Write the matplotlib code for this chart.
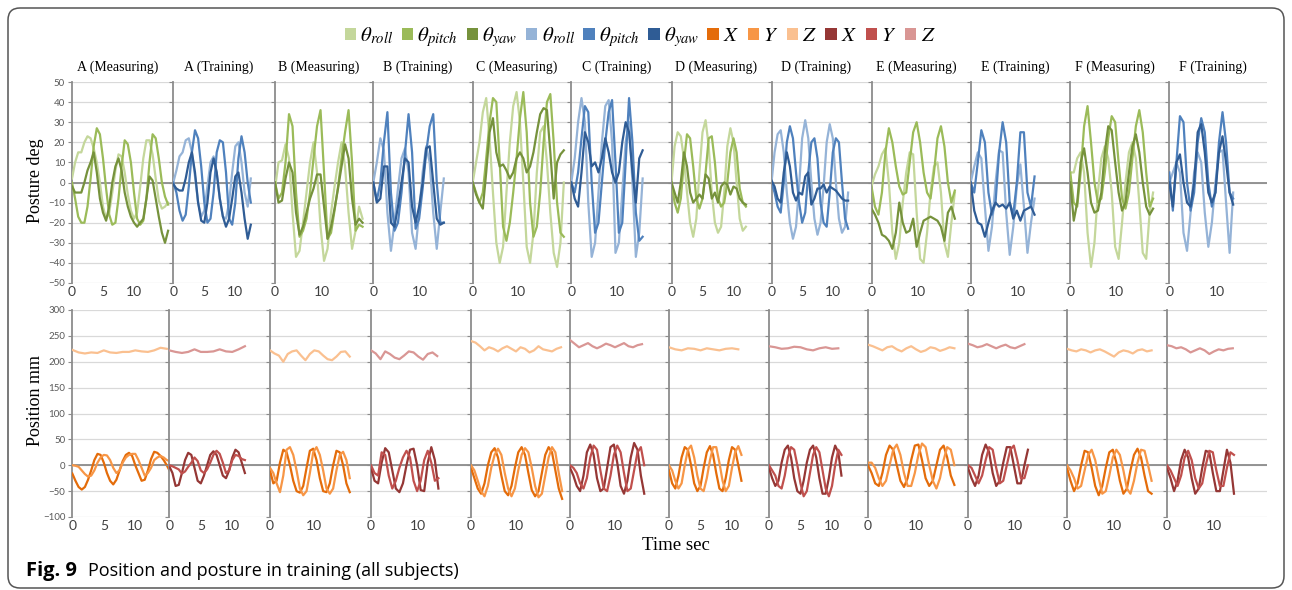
"""
Fig. 9 - position and posture in training (all subjects A-F)
Twelve measuring / training segments side by side, posture on top, position below
"""

import numpy as np
import matplotlib
matplotlib.use('Agg')
import matplotlib.pyplot as plt
from matplotlib.patches import FancyBboxPatch, Patch

# ─── PANELS ──────────────────────────────────────────────────────────────────
panel_titles = ['A (Measuring)', 'A (Training)', 'B (Measuring)', 'B (Training)',
                'C (Measuring)', 'C (Training)', 'D (Measuring)', 'D (Training)',
                'E (Measuring)', 'E (Training)', 'F (Measuring)', 'F (Training)']
sample_dt = [0.5, 0.5, 0.75, 0.75, 0.75, 0.75, 0.5, 0.5, 0.75, 0.75, 0.75, 0.75]
z_dt = 1.0
posture_ticks = [-50, -40, -30, -20, -10, 0, 10, 20, 30, 40, 50]
position_ticks = [-100, -50, 0, 50, 100, 150, 200, 250, 300]
time_ticks = [[0, 5, 10], [0, 5, 10], [0, 10], [0, 10], [0, 10], [0, 10],
              [0, 5, 10], [0, 5, 10], [0, 10], [0, 10], [0, 10], [0, 10]]

# ─── POSTURE (deg) ───────────────────────────────────────────────────────────
a_meas_roll = [2, 10, 15, 15, 20, 23, 22, 17, 10, 0, -12, -18, -15, -5, 6, 14, 13, 5, -6, -14,
               -18, -15, -2, 12, 21, 21, 14, 2, -9, -13, -12, -10]
a_meas_pitch = [0, -8, -17, -20, -20, -12, 2, 18, 27, 24, 12, -3, -16, -21, -20, -8, 8, 21, 19, 10,
                -5, -18, -21, -19, -8, 10, 24, 22, 12, 0, -7, -11]
a_meas_yaw = [-2, -5, -5, -5, 0, 6, 10, 15, 5, -8, -15, -19, -12, 0, 8, 12, 6, -5, -12, -17,
              -20, -22, -20, -18, -8, 3, 1, -8, -17, -25, -30, -24]
a_train_roll = [0, 6, 13, 15, 21, 22, 15, 3, -10, -17, -14, -2, 10, 13, 5, -8, -17, -18, -10, 5,
                18, 20, 10, -5, -12, 2]
a_train_pitch = [0, -5, -14, -19, -16, -2, 15, 26, 22, 8, -10, -20, -18, -5, 15, 21, 20, 5, -18, -21,
                 -10, 12, 23, 15, 0, -10]
a_train_yaw = [-1, -3, -4, -4, 2, 10, 15, 5, -10, -19, -20, -10, 5, 12, 5, -8, -17, -22, -18, -8,
               3, 5, -5, -18, -28, -21]
b_meas_roll = [-3, 10, 11, 19, 12, -15, -37, -34, -20, -5, 10, 20, 5, -22, -39, -33, -15, -2, 10, 20,
               8, -15, -33, -24, -12, -18]
b_meas_pitch = [0, -8, -5, 10, 34, 28, -5, -27, -24, -18, -5, 12, 28, 36, 5, -28, -25, -14, -2, 12,
                25, 36, 10, -24, -21, -22]
b_meas_yaw = [0, -10, -9, 2, 10, 5, -15, -26, -22, -15, -8, -3, 4, 4, -12, -28, -22, -13, -3, 8,
              19, 12, -8, -21, -18, -20]
b_train_roll = [0, 10, 22, 16, -15, -34, -20, -3, 12, 17, 5, -25, -33, -15, 5, 18, 10, -15, -33, -15, 2]
b_train_pitch = [0, -9, 0, 20, 35, -5, -24, -20, -5, 15, 34, 15, -23, -18, -3, 15, 28, 34, 0, -20, -20]
b_train_yaw = [0, -10, -8, 8, 8, -20, -22, -12, 0, 12, 10, -12, -20, -12, 0, 17, 18, 0, -18, -21, -20]
c_meas_roll = [0, 10, 20, 35, 42, 22, -5, -30, -40, -32, -5, 20, 38, 45, 30, 0, -32, -40, -25, 5,
               25, 28, 10, -15, -35, -42, -30, 0]
c_meas_pitch = [0, -5, -10, -5, 12, 30, 42, 40, 10, -22, -29, -20, -5, 12, 32, 45, 25, -10, -27, -22,
                -5, 20, 40, 44, 20, -10, -25, -27]
c_meas_yaw = [0, -6, -10, -13, 5, 25, 32, 15, 8, 9, 6, 2, 5, 12, 15, 12, 5, 8, 15, 25,
              34, 37, 36, 15, -8, 10, 14, 16]
c_train_roll = [0, 12, 30, 42, 30, -10, -37, -30, -5, 20, 38, 41, 20, -35, -30, -5, 20, 30, 0, -37, -25, 2]
c_train_pitch = [0, -5, 5, 22, 38, 35, 0, -25, -20, 0, 20, 35, 41, 10, -25, -20, 10, 42, 20, -15, -29, -27]
c_train_yaw = [0, -8, -12, 5, 25, 20, 8, 10, 5, 12, 22, 15, 5, 0, 5, 20, 30, 25, 5, -10, 12, 16]
d_meas_roll = [0, 18, 25, 23, 12, -5, -20, -27, -18, 5, 25, 31, 18, -5, -20, -25, -22, -5, 18, 27,
               20, 0, -18, -24, -22]
d_meas_pitch = [0, -10, -15, -8, 10, 24, 22, 8, -8, -13, -8, 5, 22, 23, 10, -8, -12, -10, 0, 15,
                22, 15, -3, -10, -12]
d_meas_yaw = [0, -5, -10, 0, 15, 8, -5, -10, -8, -6, -8, 4, 2, -8, -5, -10, -2, 0, -1, -6,
              -2, -3, -8, -10, -11]
d_train_roll = [0, 15, 24, 26, 15, -5, -20, -28, -22, -2, 22, 31, 22, 0, -18, -26, -20, -2, 20, 29,
                22, 0, -18, -25, -22, -5]
d_train_pitch = [0, -5, -12, -15, 0, 20, 28, 22, 5, -10, -20, -15, 5, 20, 22, 12, -10, -20, -22, -5,
                 15, 22, 20, 0, -18, -23]
d_train_yaw = [1, -2, -8, -10, 5, 15, 8, -5, -9, -5, -6, 3, 5, -11, -8, -3, -3, -1, -5, -2,
               -3, -4, -6, -8, -9, -9]
e_meas_roll = [-2, 4, 8, 14, 17, 0, -25, -38, -30, -10, 5, 15, 14, -15, -38, -40, -25, -5, 8, 10,
               -5, -30, -37, -20, -5]
e_meas_pitch = [-2, -12, -16, -5, 15, 27, 20, 8, -2, -6, -5, 10, 25, 30, 20, 5, -5, -8, 5, 22,
                28, 18, 0, -10, -4]
e_meas_yaw = [-13, -16, -20, -26, -27, -29, -33, -25, -10, -20, -25, -24, -18, -32, -25, -19, -18, -17,
              -18, -19, -22, -29, -15, -12, -18]
e_train_roll = [0, 8, 15, 12, -12, -34, -22, 0, 16, 15, -15, -36, -22, -2, 9, -12, -35, -20, -8]
e_train_pitch = [0, -5, 10, 26, 20, -5, -16, -10, 15, 30, 20, -10, -16, 0, 25, 25, -5, -12, 3]
e_train_yaw = [0, -14, -20, -21, -27, -20, -14, -10, -12, -11, -13, -10, -18, -14, -19, -14, -13, -12, -16]
f_meas_roll = [5, 5, 12, 15, 5, -25, -42, -30, -5, 12, 18, 12, -5, -32, -38, -20, 0, 15, 20, 12,
               -10, -35, -38, -15, -5]
f_meas_pitch = [5, -10, -12, 5, 28, 38, 20, 0, -10, -8, 5, 22, 33, 30, 10, -8, -13, -5, 12, 28,
                36, 25, 5, -12, -8]
f_meas_yaw = [0, -19, -10, 10, 17, 5, -10, -15, -14, -5, 15, 28, 26, 10, -5, -14, -10, 5, 18, 24,
              15, 0, -12, -16, -13]
f_train_roll = [0, 5, 10, 5, -25, -34, -15, 5, 15, 10, -15, -32, -20, 0, 15, 16, -10, -35, -5]
f_train_pitch = [5, -14, 10, 33, 30, 0, -14, -5, 20, 32, 25, 0, -12, -5, 20, 35, 20, -5, -8]
f_train_yaw = [0, -12, 10, 14, 0, -10, -12, 0, 25, 29, 15, -5, -10, -5, 15, 23, 10, -5, -11]

# ─── POSITION (mm) ───────────────────────────────────────────────────────────
a_meas_x = [-16, -30, -42, -47, -42, -28, -10, 10, 22, 20, 5, -15, -30, -37, -28, -10, 8, 20, 24, 18,
            0, -15, -30, -28, -10, 12, 26, 24, 18, 10, 0, -12]
a_meas_y = [0, -1, -3, -10, -17, -22, -20, -10, 5, 15, 20, 19, 10, -5, -15, -10, 5, 15, 20, 22,
            22, 10, -5, -20, -15, -5, 10, 15, 18, 15, 10, 8]
a_meas_z = [223, 218, 216, 218, 217, 222, 218, 217, 219, 219, 222, 220, 219, 222, 227, 225]
a_train_x = [-2, -15, -40, -38, -15, 10, 24, 20, -5, -30, -35, -20, 0, 20, 27, 20, 0, -20, -25, -10,
             15, 30, 25, 5, -15]
a_train_y = [0, -2, -5, -8, -16, -12, -3, 5, 15, 8, -10, -15, -8, 5, 20, 28, 22, 5, -15, -10,
             10, 20, 18, 12, 10]
a_train_z = [222, 219, 217, 219, 224, 219, 219, 220, 224, 220, 219, 224, 230]
b_meas_x = [-10, -35, -30, 5, 30, 25, 0, -30, -50, -53, -40, -5, 28, 32, 10, -25, -50, -52, -35, 0,
            28, 25, 0, -35, -52]
b_meas_y = [-5, -15, -35, -52, -20, 30, 35, 20, -10, -45, -58, -50, -15, 25, 35, 20, -10, -45, -55, -45,
            -10, 20, 26, 10, -25]
b_meas_z = [222, 216, 212, 200, 215, 220, 222, 212, 203, 215, 222, 220, 212, 205, 203, 210, 219, 220, 210]
b_train_x = [-5, -30, -35, 5, 33, 25, -10, -45, -52, -35, 0, 30, 32, 0, -48, -50, 5, 35, 10, -45]
b_train_y = [0, -15, -20, 25, 20, -20, -45, -30, -5, 15, 28, 15, -30, -50, -30, 10, 28, 5, -30, -25]
b_train_z = [222, 216, 205, 220, 215, 208, 205, 212, 220, 218, 210, 204, 215, 218, 211]
c_meas_x = [-5, -25, -45, -55, -35, 0, 25, 33, 15, -20, -50, -58, -40, -5, 25, 35, 20, -15, -48, -60,
            -50, -15, 20, 35, 25, -10, -45, -65]
c_meas_y = [0, -10, -30, -50, -60, -40, -5, 20, 32, 20, -15, -45, -60, -45, -10, 20, 33, 25, -5, -40,
            -62, -55, -20, 15, 35, 25, -15, -50]
c_meas_z = [240, 237, 230, 222, 228, 225, 220, 226, 230, 225, 220, 228, 225, 218, 222, 230, 224, 222,
            220, 225, 228]
c_train_x = [-5, -20, -40, -50, -20, 25, 40, 20, -25, -50, -45, -5, 35, 40, 5, -40, -55, -30, 15, 43,
             30, -20, -55]
c_train_y = [0, -5, -15, -35, -45, -25, 15, 38, 30, -10, -45, -50, -20, 20, 38, 25, -15, -50, -45, -10,
             25, 35, 0]
c_train_z = [242, 235, 228, 232, 236, 230, 226, 230, 235, 232, 228, 232, 236, 230, 228, 232, 234]
d_meas_x = [-10, -35, -45, -20, 15, 35, 30, 0, -35, -50, -40, -5, 25, 37, 20, -15, -45, -50, -25, 10,
            35, 30, 0, -30]
d_meas_y = [0, -10, -30, -45, -35, 0, 30, 38, 15, -20, -45, -50, -25, 10, 35, 35, 5, -30, -50, -40,
            -5, 25, 37, 20]
d_meas_z = [228, 224, 222, 226, 225, 222, 226, 224, 222, 225, 226, 224]
d_train_x = [-5, -25, -40, -30, 5, 30, 38, 15, -25, -50, -55, -30, 5, 30, 38, 15, -25, -55, -55, -25,
             15, 38, 25, -20]
d_train_y = [0, -10, -20, -40, -45, -20, 15, 35, 30, 0, -35, -60, -50, -15, 20, 35, 25, -10, -45, -60,
             -40, 0, 30, 20]
d_train_z = [230, 228, 225, 226, 229, 228, 224, 222, 226, 228, 225, 226]
e_meas_x = [0, -15, -35, -40, -15, 20, 38, 30, 0, -30, -42, -25, 10, 38, 40, 10, -25, -40, -30, 0,
            30, 38, 15, -20, -38]
e_meas_y = [5, 5, -5, -25, -40, -30, 0, 30, 40, 20, -15, -40, -40, -15, 20, 42, 35, 0, -30, -45,
            -25, 10, 35, 30, 0]
e_meas_z = [233, 230, 226, 222, 228, 230, 224, 220, 226, 230, 224, 219, 222, 228, 226, 221, 224, 228, 226]
e_train_x = [-5, -25, -40, -20, 20, 40, 25, -15, -40, -30, 5, 35, 35, 0, -35, -35, 0, 30]
e_train_y = [0, -5, -20, -35, -20, 10, 35, 30, -5, -35, -30, 0, 30, 38, 10, -25, -25, 0]
e_train_z = [235, 232, 228, 230, 234, 230, 226, 230, 233, 228, 226, 230, 234]
f_meas_x = [-5, -30, -50, -35, 0, 28, 25, -5, -40, -58, -40, -5, 25, 30, 5, -30, -55, -45, -10, 20,
            32, 15, -20, -50, -55]
f_meas_y = [0, -10, -25, -45, -40, -10, 20, 30, 10, -25, -55, -50, -20, 15, 30, 20, -10, -45, -55, -30,
            5, 30, 28, 0, -30]
f_meas_z = [225, 222, 220, 224, 222, 218, 222, 224, 220, 215, 210, 218, 222, 220, 216, 222, 224, 220, 222]
f_train_x = [-5, -25, -50, -30, 10, 30, 15, -25, -55, -45, -5, 28, 25, -15, -50, -50, -10, 30, 5, -55]
f_train_y = [0, -10, -25, -40, -20, 15, 28, 10, -25, -45, -35, 0, 28, 25, -10, -40, -40, -5, 25, 20]
f_train_z = [232, 230, 226, 228, 224, 218, 222, 226, 222, 215, 220, 224, 222, 225, 226]

posture_sets = [
    (a_meas_roll, a_meas_pitch, a_meas_yaw), (a_train_roll, a_train_pitch, a_train_yaw),
    (b_meas_roll, b_meas_pitch, b_meas_yaw), (b_train_roll, b_train_pitch, b_train_yaw),
    (c_meas_roll, c_meas_pitch, c_meas_yaw), (c_train_roll, c_train_pitch, c_train_yaw),
    (d_meas_roll, d_meas_pitch, d_meas_yaw), (d_train_roll, d_train_pitch, d_train_yaw),
    (e_meas_roll, e_meas_pitch, e_meas_yaw), (e_train_roll, e_train_pitch, e_train_yaw),
    (f_meas_roll, f_meas_pitch, f_meas_yaw), (f_train_roll, f_train_pitch, f_train_yaw)]
position_sets = [
    (a_meas_x, a_meas_y, a_meas_z), (a_train_x, a_train_y, a_train_z),
    (b_meas_x, b_meas_y, b_meas_z), (b_train_x, b_train_y, b_train_z),
    (c_meas_x, c_meas_y, c_meas_z), (c_train_x, c_train_y, c_train_z),
    (d_meas_x, d_meas_y, d_meas_z), (d_train_x, d_train_y, d_train_z),
    (e_meas_x, e_meas_y, e_meas_z), (e_train_x, e_train_y, e_train_z),
    (f_meas_x, f_meas_y, f_meas_z), (f_train_x, f_train_y, f_train_z)]

# ─── STYLE / LAYOUT (pixels) ─────────────────────────────────────────────────
green = ['#c4d79b', '#9bbb59', '#76923c']
blue = ['#95b3d7', '#4f81bd', '#2f5c95']
orange = ['#e46c0a', '#f79646', '#fac090']
red = ['#953735', '#c0504d', '#d99694']

W, H = 1292, 590
top_edges = [72, 173.3, 275, 373.3, 472.7, 571.3, 671.5, 771.5, 871.5, 970.7, 1070.3, 1169.3, 1267]
bot_edges = [72.3, 169.3, 270, 371, 471, 570, 669, 769, 868, 968, 1067, 1167, 1267]
top_pxps = [6.2, 6.2, 4.67, 4.7, 4.5, 4.53, 6.2, 6.13, 4.63, 4.73, 4.6, 4.73]
bot_pxps = [6.3, 6.3, 4.43, 4.73, 4.5, 4.5, 6.3, 6.3, 4.8, 4.7, 4.7, 4.7]
axis_gray = '#8c8c8c'

plt.rcParams['mathtext.fontset'] = 'stix'
serif = 'Liberation Serif'
sans = 'Lato'

fig = plt.figure(figsize=(W / 100, H / 100), dpi=100)

# rounded caption frame
bg = fig.add_axes([0, 0, 1, 1], zorder=-5)
bg.set_xlim(0, W)
bg.set_ylim(H, 0)
bg.axis('off')
bg.add_patch(FancyBboxPatch((8, 8), W - 16, H - 10, boxstyle='round,pad=0,rounding_size=12',
                            fc='white', ec='#555555', lw=1.1))


def draw_row(edges, pxps, ytop, ybot, ylim, yticks, sets, posture):
    for i in range(12):
        x0, x1 = edges[i], edges[i + 1]
        ax = fig.add_axes([x0 / W, 1 - ybot / H, (x1 - x0) / W, (ybot - ytop) / H])
        ax.set_xlim(0, (x1 - x0) / pxps[i])
        ax.set_ylim(*ylim)
        ax.set_yticks(yticks)
        ax.set_xticks(time_ticks[i])
        ax.grid(axis='y', color='#d9d9d9', lw=0.9)
        ax.set_axisbelow(True)
        ax.axhline(0, color=axis_gray, lw=1.3, zorder=1.5)
        for s in ['top', 'right', 'bottom']:
            ax.spines[s].set_visible(False)
        ax.spines['left'].set_color(axis_gray)
        ax.spines['left'].set_linewidth(1.3)
        ax.tick_params(axis='x', length=0, pad=2, labelsize=10, labelcolor='#404040')
        ax.tick_params(axis='y', length=3, color=axis_gray, pad=2, labelsize=7,
                       labelcolor='#595959', labelleft=(i == 0))
        for lab in ax.get_xticklabels() + ax.get_yticklabels():
            lab.set_family(sans)
        if posture:
            cols = green if i % 2 == 0 else blue
        else:
            cols = orange if i % 2 == 0 else red
        for k, vals in enumerate(sets[i]):
            dt = sample_dt[i] if (posture or k < 2) else z_dt
            t = np.arange(len(vals)) * dt
            ax.plot(t, vals, color=cols[k], lw=1.6, solid_joinstyle='round', zorder=3)


draw_row(top_edges, top_pxps, 82, 283, (-50, 50), posture_ticks, posture_sets, True)
draw_row(bot_edges, bot_pxps, 310, 517, (-100, 300), position_ticks, position_sets, False)

# ─── TEXT ────────────────────────────────────────────────────────────────────
for i, title in enumerate(panel_titles):
    cx = (top_edges[i] + top_edges[i + 1]) / 2 - 5
    fig.text(cx / W, 1 - 67 / H, title, ha='center', va='center', family=serif, fontsize=10)

fig.text(35 / W, 1 - 181 / H, 'Posture deg', rotation=90, ha='center', va='center',
         family=serif, fontsize=13)
fig.text(35 / W, 1 - 400 / H, 'Position mm', rotation=90, ha='center', va='center',
         family=serif, fontsize=13)
fig.text(676 / W, 1 - 545 / H, 'Time sec', ha='center', va='center', family=serif, fontsize=13.5)

fig.text(26 / W, 1 - 571 / H, 'Fig. 9', ha='left', va='center', family='Open Sans',
         fontweight='bold', fontsize=14.5)
fig.text(88 / W, 1 - 571 / H, 'Position and posture in training (all subjects)', ha='left',
         va='center', family='Open Sans', fontsize=13)

# ─── LEGEND ──────────────────────────────────────────────────────────────────
leg_colors = green + blue + orange + red
leg_labels = [r'$\theta_{roll}$', r'$\theta_{pitch}$', r'$\theta_{yaw}$'] * 2 + [r'$X$', r'$Y$', r'$Z$'] * 2
handles = [Patch(facecolor=c, edgecolor='none') for c in leg_colors]
fig.legend(handles, leg_labels, ncol=12, loc='center', bbox_to_anchor=(640 / W, 1 - 37 / H),
           frameon=False, fontsize=15, handlelength=0.55, handleheight=0.55,
           handletextpad=0.2, columnspacing=0.4, borderaxespad=0)

fig.savefig('out.png', dpi=100)
